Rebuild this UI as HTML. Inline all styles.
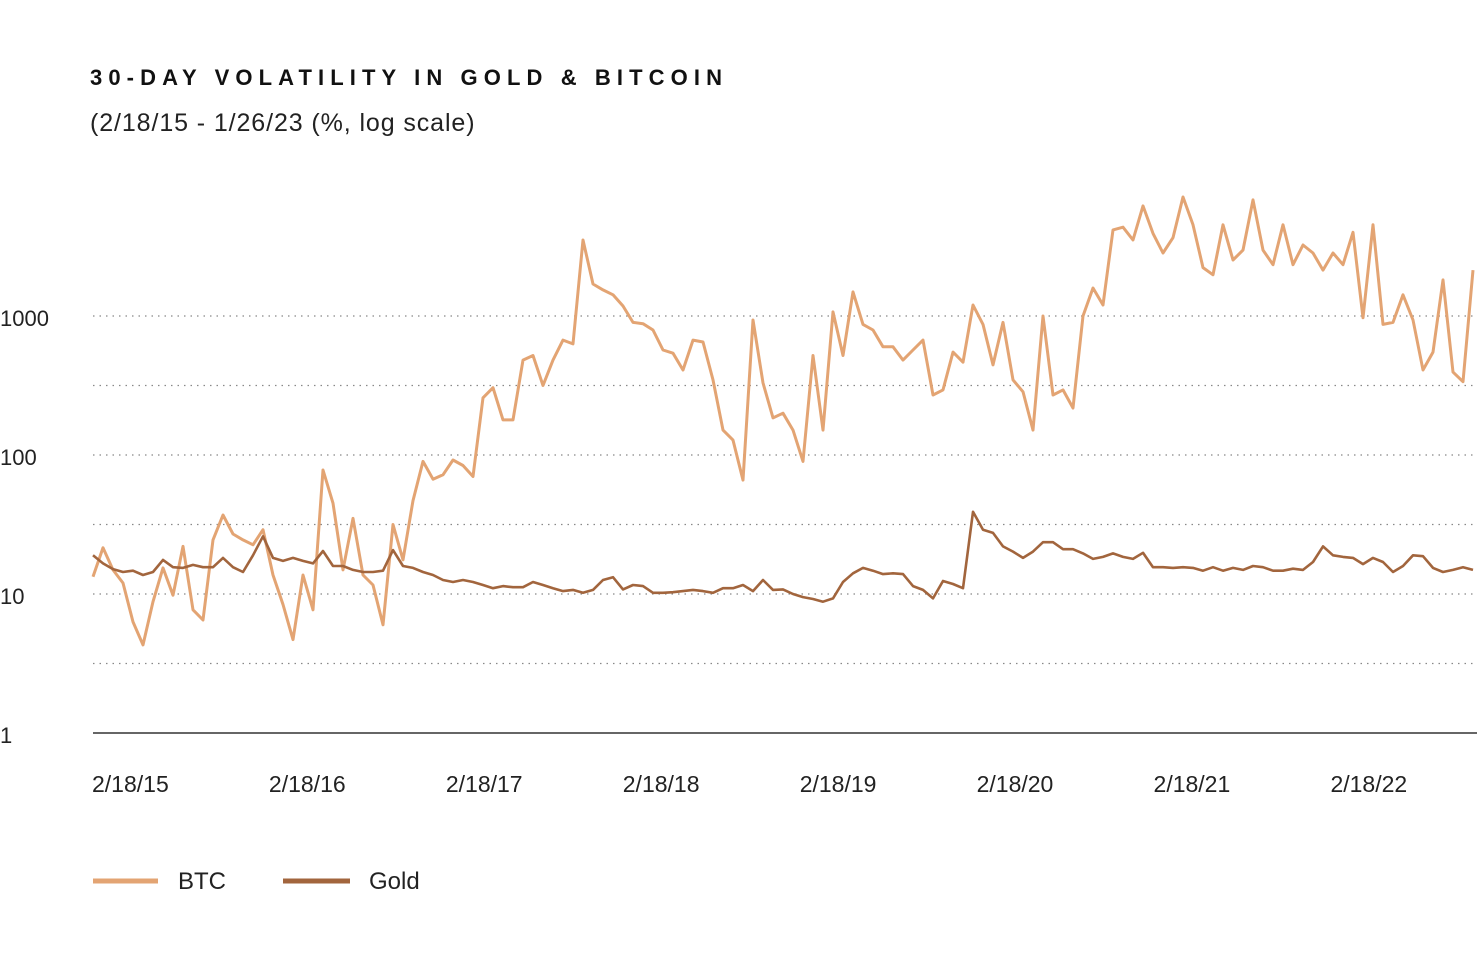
<!DOCTYPE html>
<html><head><meta charset="utf-8">
<style>
html,body{margin:0;padding:0;background:#fff;}
body{width:1477px;height:950px;overflow:hidden;font-family:"Liberation Sans",sans-serif;}
</style></head>
<body>
<svg id="chart" width="1477" height="950" xmlns="http://www.w3.org/2000/svg">
<text x="90" y="85" font-family="Liberation Sans, sans-serif" font-weight="bold" font-size="22" letter-spacing="6.1" fill="#111">30-DAY VOLATILITY IN GOLD &amp; BITCOIN</text>
<text x="90" y="131" font-family="Liberation Sans, sans-serif" font-size="25" letter-spacing="0.9" fill="#222">(2/18/15 - 1/26/23 (%, log scale)</text>
<g id="grid"></g>
<g id="series"></g>
<g>
<line x1="93" y1="881" x2="158" y2="881" stroke="#E3A473" stroke-width="5"/>
<text x="178" y="889" font-size="24" fill="#222">BTC</text>
<line x1="283" y1="881" x2="350" y2="881" stroke="#A2653D" stroke-width="5"/>
<text x="369" y="889" font-size="24" fill="#222">Gold</text>
</g>
</svg>
<script>
const yTickValues=[1,10,100,1000];
const yTickLabels=["1","10","100","1000"];
const gridValues=[3.162,10,31.62,100,316.2,1000];
const xTickLabels=["2/18/15","2/18/16","2/18/17","2/18/18","2/18/19","2/18/20","2/18/21","2/18/22"];
const startDate=2015.13, endDate=2022.93;
const btcValues=[13.3,21.5,14.9,12,6.3,4.3,8.8,15.4,9.8,22,7.7,6.5,24.5,37,27,24.5,22.6,29,13.7,8.4,4.7,13.7,7.7,78,45,14.9,35,13.7,11.6,6,31.6,17.6,47,90,67,72,92,84,70,258,305,179,179,482,520,316,482,671,630,3520,1700,1540,1420,1180,900,880,793,569,540,409,671,650,347,151,128,66,936,330,185,200,151,90,520,151,1070,520,1490,870,793,600,600,482,569,671,270,294,550,465,1200,870,445,900,347,285,151,1000,270,294,218,1000,1590,1200,4160,4350,3520,6200,3930,2840,3660,7180,4530,2230,1980,4530,2530,2980,6840,2980,2340,4530,2340,3240,2840,2140,2840,2340,4000,970,4530,870,900,1420,936,409,550,1820,395,337,2140];
const goldValues=[19,16.6,15.1,14.4,14.7,13.7,14.4,17.6,15.6,15.4,16.2,15.6,15.6,18.2,15.6,14.4,19,26,18.2,17.3,18.2,17.3,16.6,20.4,15.9,15.9,14.9,14.4,14.4,14.7,20.7,15.9,15.4,14.4,13.7,12.6,12.2,12.6,12.2,11.6,11,11.4,11.2,11.2,12.2,11.6,11,10.5,10.7,10.2,10.7,12.6,13.2,10.8,11.6,11.4,10.2,10.2,10.3,10.5,10.7,10.5,10.2,11,11,11.6,10.5,12.6,10.7,10.8,10,9.5,9.2,8.8,9.3,12.2,14.1,15.4,14.7,13.9,14.1,13.9,11.4,10.7,9.3,12.4,11.8,11,39,29,27.5,22,20.2,18.2,20.2,23.6,23.6,21,21,19.6,17.9,18.5,19.6,18.5,17.9,19.8,15.6,15.6,15.4,15.6,15.4,14.7,15.6,14.7,15.4,14.9,15.9,15.6,14.7,14.7,15.2,14.9,17,22,19,18.5,18.2,16.4,18.2,17,14.4,15.9,19,18.7,15.4,14.4,14.9,15.6,14.9];

const NS="http://www.w3.org/2000/svg";
const X0=93, X1=1473;
function yScale(v){return 733-139*Math.log10(v);}
function dateAt(i,n){return startDate+(endDate-startDate)*i/(n-1);}
function xScale(t){return X0+(t-startDate)/(endDate-startDate)*(X1-X0);}
const grid=document.getElementById('grid');
gridValues.forEach(v=>{
  const l=document.createElementNS(NS,'line');
  
  
  l.setAttribute('x1',93);l.setAttribute('x2',1477);
  l.setAttribute('y1',yScale(v));l.setAttribute('y2',yScale(v));
  l.setAttribute('stroke','#888');l.setAttribute('stroke-width','1.3');l.setAttribute('stroke-dasharray','1.5 5');
  grid.appendChild(l);
});
const base=document.createElementNS(NS,'line');


base.setAttribute('x1',93);base.setAttribute('x2',1477);base.setAttribute('y1',733);base.setAttribute('y2',733);
base.setAttribute('stroke','#333');base.setAttribute('stroke-width','1.5');
grid.appendChild(base);
yTickValues.forEach((v,i)=>{
  const t=document.createElementNS(NS,'text');
  
  
  t.setAttribute('x',0);t.setAttribute('y',yScale(v)+10);
  t.setAttribute('font-size','22');t.setAttribute('fill','#222');
  t.textContent=yTickLabels[i];
  grid.appendChild(t);
});
xTickLabels.forEach((s,k)=>{
  const t=document.createElementNS(NS,'text');
  
  
  t.setAttribute('x',xScale(startDate+k)-1);t.setAttribute('y',792);
  t.setAttribute('font-size','23');t.setAttribute('fill','#222');
  t.textContent=s;
  grid.appendChild(t);
});
const ser=document.getElementById('series');
function drawLine(vals,color,name,w){
  const n=vals.length;
  const d=vals.map((v,i)=>(i?'L':'M')+(X0+(X1-X0)*i/(n-1)).toFixed(1)+','+yScale(v).toFixed(1)).join('');
  const p=document.createElementNS(NS,'path');
  
  
  p.setAttribute('d',d);p.setAttribute('fill','none');p.setAttribute('stroke',color);
  p.setAttribute('stroke-width',w);p.setAttribute('stroke-linejoin','round');
  ser.appendChild(p);
}
drawLine(btcValues,'#E3A473','btc-line','3');
drawLine(goldValues,'#A2653D','gold-line','2.6');
</script>
</body></html>
